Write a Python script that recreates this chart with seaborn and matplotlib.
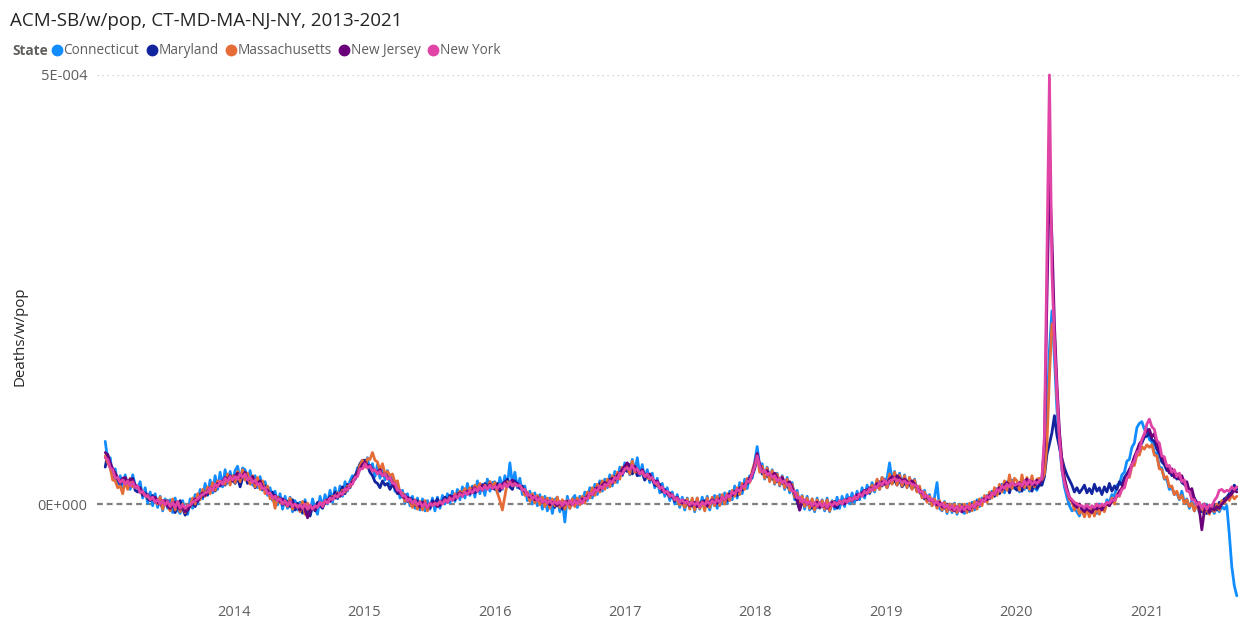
import numpy as np
import pandas as pd
import matplotlib
matplotlib.use("Agg")
import matplotlib.pyplot as plt
import seaborn as sns
from matplotlib.lines import Line2D
from matplotlib.ticker import FixedLocator, FuncFormatter

# ---------------- data ----------------
states = ["Connecticut", "Maryland", "Massachusetts", "New Jersey", "New York"]
colors = ["#118DFF", "#12239E", "#E66C37", "#6B007B", "#E044A7"]
first_week = "2013-01-05"          # weekly series (week ending Saturday)
year_ticks = [2014, 2015, 2016, 2017, 2018, 2019, 2020, 2021]
y_ticks = [0.0, 5e-4]
unit = 1e-5                         # values below are in units of 1E-005

connecticut = [
    # 2013
    7.3, 5.2, 5.4, 3.0, 4.1, 2.3, 3.3, 1.8, 3.4, 2.1, 1.7, 3.4, 2.2,
    1.9, 2.6, 0.7, 1.9, 0.1, 1.4, -0.2, 1.2, -0.4, 0.9, -0.8, 0.6, -0.5,
    0.5, -1.0, 0.7, -0.7, -1.1, 0.4, -0.8, -1.2, 0.6, -0.5, 1.1, 0.0, 1.7,
    0.6, 2.4, 1.0, 2.8, 1.3, 3.3, 1.7, 3.7, 2.0, 4.0, 2.4, 3.8, 2.6,
    # 2014
    3.9, 4.4, 2.8, 4.2, 4.0, 2.5, 3.9, 2.2, 3.3, 1.9, 3.2, 1.6, 2.6,
    1.0, 1.9, 0.4, 1.5, -0.1, 1.2, -0.6, 0.9, -0.5, 0.8, -0.9, 0.4, -0.7,
    0.2, -1.1, 0.5, -0.8, -1.3, 0.6, -0.5, -1.2, 0.9, -0.4, 1.1, 0.0, 1.6,
    0.2, 1.9, 0.6, 2.1, 0.9, 2.6, 1.5, 2.7, 3.3, 2.9, 4.2, 4.3, 5.0,
    # 2015
    4.4, 5.4, 3.8, 4.7, 3.2, 4.6, 3.0, 4.3, 2.8, 3.9, 2.3, 3.2, 1.5,
    2.3, 0.7, 1.6, 0.1, 1.2, -0.2, 0.9, -0.5, 0.7, -0.7, 0.6, -0.8, 0.4,
    -0.6, 0.7, -0.8, 0.8, -0.5, 1.0, 0.0, 1.2, 0.1, 1.5, 0.3, 1.7, 0.5,
    2.0, 0.7, 2.4, 1.0, 2.1, 0.8, 2.7, 1.2, 2.3, 1.0, 2.9, 1.5, 2.5,
    # 2016
    2.6, 1.3, 3.1, 1.7, 3.3, 2.1, 4.8, 2.3, 3.7, 1.9, 3.0, 1.1, 2.1,
    0.4, 1.5, 0.0, 1.3, -0.2, 1.1, -0.6, 0.9, -0.8, 0.7, -1.1, 0.5, 0.8,
    -0.9, 0.4, -2.1, 0.9, -0.5, 0.6, 1.0, -0.4, 0.9, 0.1,
    1.4, 0.4, 1.9, 0.7, 2.3, 1.1, 2.7, 1.5, 2.9, 1.9, 3.4, 2.1, 3.8, 2.5, 4.3, 3.3, 4.8,
    # 2017
    4.6, 3.4, 5.2, 3.8, 5.4, 3.3, 4.6, 2.8, 4.0, 2.5, 3.6, 1.9, 3.0,
    1.3, 2.4, 0.9, 1.9, 0.4, 1.4, 0.0, 1.1, -0.4, 0.8, -0.7, 0.7, -0.5,
    0.6, -0.9, 0.7, -0.6, 0.8, -0.4, 0.9, -0.7, 0.5, 1.0, -0.5, 1.1, 0.0,
    1.3, 0.1, 1.5, 0.5, 2.1, 0.7, 2.5, 1.2, 2.9, 1.8, 3.3, 3.0, 4.9,
    # 2018
    6.7, 4.4, 4.7, 2.9, 4.3, 2.7, 4.0, 2.3, 3.6, 2.1, 3.3, 1.7, 3.1,
    1.3, 2.5, 0.5, 1.6, -0.1, 1.0, -0.6, 0.9, -0.7, 0.6, -0.9, 0.7, -0.5,
    0.5, -0.8, 0.7, -0.9, 0.4, -0.6, 0.8, -0.5, 0.9, -0.3, 1.1, 0.0, 1.3,
    0.2, 1.5, 0.5, 1.9, 0.7, 2.2, 1.2, 2.5, 1.4, 2.8, 1.7, 3.1, 2.8,
    # 2019
    3.0, 4.8, 2.7, 3.8, 2.3, 3.6, 2.2, 3.4, 1.9, 3.1, 1.8, 2.9, 1.5,
    1.8, 0.8, 1.6, 0.3, 1.1, -0.2, 0.8, 2.5, -0.5, -0.8, 0.3, -1.1, 0.0,
    -1.0, 0.1, -1.2, -0.1, -0.9, -1.1, 0.0, -0.9, 0.2, -0.7, 0.5, -0.3, 0.7,
    0.3, 1.0, 0.9, 1.5, 1.2, 1.8, 1.6, 2.3, 1.3, 2.6, 1.5, 2.8, 1.8,
    # 2020
    2.4, 1.4, 2.8, 1.7, 2.6, 1.5, 2.9, 1.9, 1.6, 2.7,
    2.5, 4.5, 10.0, 18.0, 22.5, 17.0, 11.0, 7.0, 4.0, 2.0, 0.8, -0.2,
    -0.8, -0.6, -0.9, -1.4, -0.5, -1.3, -0.2, -1.2, -0.4, -0.7, -1.1, 0.0, -0.3, -0.7, 0.5, 0.2,
    1.1, 0.9, 2.2, 2.3, 3.4, 3.7, 5.0, 5.2, 6.6, 7.1, 8.9, 9.4, 9.6, 8.7,
    # 2021
    8.8, 7.5, 7.3, 6.0, 5.9, 4.3, 4.2, 2.9, 2.9, 1.7, 1.9, 1.1, 1.3,
    0.5, 1.5, 0.2, 0.6, -0.5, 0.4, -0.8, 0.0, -1.0, -0.6, -1.2, -0.1, -0.9,
    -0.4, -1.1, -0.2, -0.9, -0.3, -0.6, -0.2, -3.5, -7.3, -9.5, -10.7,
]

maryland = [
    # 2013
    4.3, 5.8, 4.6, 3.5, 3.0, 2.9, 2.3, 2.7, 2.6, 1.9, 2.2, 3.0, 1.6,
    1.4, 1.9, 1.0, 1.3, 0.6, 0.4, 1.0, 0.2, 0.5, 0.1, -0.4, 0.3, 0.4,
    -0.6, 0.2, -1.0, -0.2, 0.4, -0.5, -1.3, -0.7, -0.2, 0.2, -0.3, 0.6, 1.1,
    0.8, 1.5, 1.1, 1.9, 2.0, 1.5, 2.4, 2.1, 2.6, 2.2, 3.1, 2.6, 2.9,
    # 2014
    2.4, 3.1, 2.0, 3.0, 3.4, 2.4, 2.9, 3.1, 1.9, 2.6, 2.4, 1.7, 2.1,
    1.3, 1.0, 1.4, 0.5, 0.8, 0.7, -0.1, 0.4, 0.3, -0.3, 0.5, -0.7, 0.1,
    -0.6, -1.0, 0.2, -0.4, -1.4, -0.3, -0.8, 0.2, -0.2, -0.5, 0.4, 0.3, 0.9,
    0.6, 1.4, 0.7, 1.3, 2.0, 1.2, 2.3, 1.9, 2.8, 3.3, 3.9, 4.7, 5.1,
    # 2015
    5.1, 4.5, 3.7, 3.3, 2.6, 2.4, 1.9, 2.7, 2.2, 2.4, 1.7, 2.3, 1.8,
    1.2, 1.4, 0.8, 1.1, 0.3, 0.7, 0.5, -0.2, 0.4, -0.4, 0.2, 0.3, -0.3,
    -0.5, 0.4, 0.1, 0.6, -0.2, 0.3, 0.8, 0.4, 1.0, 0.6, 0.5, 1.2, 1.3,
    0.9, 1.6, 1.2, 1.5, 1.9, 1.3, 1.8, 2.3, 1.6, 2.4, 2.0, 2.6, 1.9,
    # 2016
    1.7, 2.4, 1.5, 2.3, 2.5, 2.9, 2.0, 1.7, 2.7, 2.2, 1.8, 2.1, 1.3,
    1.2, 0.8, 1.0, 0.4, 0.9, 0.6, 0.2, 0.5, 0.4, -0.1, 0.5, -0.4, 0.3,
    0.1, -0.6, 0.3, 0.0, -0.2, 0.5, 0.1, 0.4, 0.2, 0.6,
    0.7, 0.9, 1.4, 1.1, 1.8, 1.6, 2.4, 1.9, 2.5, 2.3, 2.9, 2.4, 3.2, 3.0, 3.7, 3.4, 4.0,
    # 2017
    3.8, 4.6, 3.5, 4.1, 3.3, 3.5, 3.6, 2.8, 3.3, 2.8, 2.9, 2.2, 2.1,
    2.3, 1.4, 1.7, 1.2, 0.8, 1.1, 0.3, 0.7, 0.2, 0.4, -0.3, 0.1, 0.2,
    -0.1, -0.5, 0.3, -0.2, 0.2, 0.4, -0.3, 0.1, 0.5, -0.2, 0.6, 0.3, 0.5,
    0.7, 0.4, 1.0, 1.1, 1.4, 1.0, 1.9, 1.6, 2.1, 2.4, 2.6, 3.3, 4.1,
    # 2018
    5.4, 4.5, 3.5, 3.7, 3.2, 3.4, 2.9, 3.1, 2.6, 2.8, 2.4, 2.5, 2.1,
    1.7, 1.8, 0.9, 0.3, -0.7, 0.5, -0.2, 0.3, 0.1, -0.5, 0.2, -0.4, 0.1,
    -0.2, -0.4, 0.2, -0.7, 0.1, 0.3, -0.5, 0.2, 0.0, 0.5, 0.2, 0.7, 0.3,
    0.8, 0.5, 1.0, 1.3, 1.0, 1.7, 1.3, 1.9, 2.0, 2.1, 2.6, 2.1, 2.8,
    # 2019
    1.9, 2.7, 2.4, 2.8, 2.2, 2.9, 2.0, 2.4, 2.5, 2.3, 1.8, 2.3, 1.5,
    1.4, 1.0, 0.6, 0.5, 0.7, 0.1, 0.4, -0.3, 0.1, -0.2, -0.5, 0.0, -0.4,
    -0.7, -0.2, -0.9, -0.4, -0.2, -0.8, -0.3, -0.4, 0.0, -0.4, 0.3, 0.0, 0.4,
    0.4, 0.9, 0.6, 1.3, 0.9, 1.6, 1.2, 1.9, 1.7, 2.3, 1.3, 2.4, 1.9,
    # 2020
    1.6, 2.4, 1.5, 2.6, 1.9, 2.3, 1.5, 2.5, 1.8, 2.2,
    2.2, 3.2, 5.8, 7.0, 8.3, 10.3, 8.0, 6.6, 5.3, 4.2, 3.4, 2.8,
    2.2, 1.4, 1.9, 1.3, 1.7, 2.2, 1.3, 1.8, 1.2, 2.3, 1.5, 1.9, 1.1, 2.0, 1.4, 2.4,
    1.5, 2.1, 1.7, 2.6, 2.2, 3.1, 3.5, 4.0, 4.4, 5.4, 5.9, 6.7, 7.1, 7.8,
    # 2021
    7.9, 8.3, 7.5, 7.3, 6.4, 5.9, 4.9, 4.6, 3.9, 4.0, 3.3, 3.7, 2.9,
    3.3, 2.5, 2.3, 1.9, 1.5, 1.0, 0.7, 0.1, -0.5, -0.9, 0.0, -1.1, -0.3,
    -0.8, 0.0, -0.7, 0.2, 0.2, 0.6, 0.8, 1.2, 1.5, 2.2, 1.7,
]

massachusetts = [
    # 2013
    5.6, 4.8, 4.2, 2.8, 2.7, 1.9, 2.1, 1.2, 2.7, 1.7, 3.0, 2.0, 2.2,
    1.9, 1.7, 1.2, 1.1, 0.8, 0.7, 0.5, 0.4, 0.0, 0.8, -0.6, 0.4, -0.1,
    -0.8, 0.6, -0.7, 0.3, -0.9, 0.0, -1.0, -0.1, -0.3, 0.7, 0.0, 1.2, 0.5,
    1.7, 0.9, 2.0, 1.2, 2.5, 1.6, 2.7, 2.5, 2.6, 2.3, 3.5, 2.2, 3.3,
    # 2014
    2.5, 3.8, 2.6, 4.0, 2.8, 3.6, 2.3, 3.3, 2.0, 3.1, 1.7, 2.7, 1.2,
    2.1, 0.6, 0.9, -0.5, 0.8, 0.1, 0.2, 0.0, -0.3, 0.7, -0.6, -0.2, -0.2,
    -0.9, 0.3, -1.2, 0.1, -0.7, -0.5, -0.4, -0.2, 0.0, 0.1, 0.1, 0.5, 0.4,
    0.9, 0.7, 1.3, 1.1, 1.6, 1.4, 2.1, 2.0, 2.7, 3.0, 3.6, 4.5, 5.1,
    # 2015
    4.3, 5.3, 5.2, 6.0, 5.1, 4.9, 3.9, 4.7, 3.5, 3.8, 3.3, 3.5, 2.5,
    2.7, 1.3, 1.3, 0.3, 0.6, 0.2, -0.4, 0.5, -0.6, 0.3, -0.7, 0.4, -0.8,
    0.1, -0.1, -0.1, 0.0, 0.2, 0.1, 0.5, 0.3, 0.8, 0.6, 1.2, 0.9, 1.5,
    1.2, 1.8, 1.3, 1.9, 1.5, 2.2, 1.7, 2.4, 1.9, 2.2, 1.8, 2.6, 2.0,
    # 2016
    2.5, 1.3, 0.4, -0.7, 0.9, 2.6, 2.3, 2.4, 2.2, 2.3, 2.1, 1.8, 1.0,
    1.4, 0.3, 1.2, 0.1, 1.0, -0.1, 0.8, -0.3, 0.7, -0.5, 0.6, -0.2, 0.8,
    -0.4, 0.5, -0.6, 0.4, -0.5, 0.6, -0.3, 0.7, -0.1, 0.9,
    0.1, 1.4, 0.7, 1.9, 1.0, 2.3, 1.4, 2.7, 1.7, 2.9, 2.0, 3.3, 2.5, 3.7, 2.9, 4.3, 4.0,
    # 2017
    4.4, 3.5, 5.0, 3.7, 3.8, 3.6, 3.6, 3.3, 3.1, 2.9, 2.9, 2.6, 2.2,
    1.9, 1.7, 1.4, 1.3, 0.9, 0.9, 0.5, 0.5, -0.1, 0.2, -0.4, 0.6, -0.6,
    0.7, -0.7, 0.7, -0.5, 0.3, -0.8, 0.7, -0.4, 0.8, -0.2, 0.9, -0.2, 1.1,
    0.0, 1.2, 0.4, 1.6, 0.9, 1.9, 1.1, 2.4, 1.7, 3.0, 2.5, 3.9, 4.8,
    # 2018
    5.7, 3.7, 4.4, 3.0, 4.2, 2.6, 3.9, 2.4, 3.5, 2.2, 3.2, 1.9, 2.9,
    1.6, 2.3, 0.8, 1.3, 0.0, 0.9, -0.3, 0.7, -0.5, 0.6, -0.7, 0.5, -0.4,
    0.4, -0.6, 0.5, -0.8, 0.3, -0.2, 0.1, 0.1, 0.3, 0.2, 0.4, 0.4, 0.6,
    0.6, 0.8, 0.9, 1.3, 1.3, 1.6, 1.4, 2.2, 1.6, 2.9, 1.7, 3.1, 2.5,
    # 2019
    1.9, 3.5, 2.3, 3.7, 2.2, 3.4, 2.1, 3.3, 1.9, 3.1, 1.7, 2.8, 1.4,
    2.1, 0.7, 1.4, 0.2, 0.9, -0.2, 0.6, -0.5, 0.4, -0.7, 0.2, -0.9, 0.0,
    -0.8, 0.0, -1.0, -0.1, -0.9, 0.0, -1.0, 0.1, -0.8, 0.3, -0.6, 0.6, -0.2,
    1.0, 0.2, 1.4, 0.7, 1.9, 1.0, 2.3, 1.4, 2.7, 1.6, 3.4, 1.8, 3.0,
    # 2020
    2.7, 1.6, 3.4, 1.9, 3.1, 1.7, 3.3, 2.0, 2.9, 3.0,
    2.8, 3.5, 7.0, 15.0, 21.0, 19.5, 12.5, 8.0, 5.0, 3.0, 1.5, 0.5,
    0.3, -0.7, 0.1, -1.1, -0.7, -1.5, -0.6, -1.5, -0.5, -1.4, -0.3, -1.2, -0.1, -0.9, 0.1, -0.2,
    0.7, 0.0, 1.1, 0.9, 1.9, 1.9, 3.1, 3.1, 4.4, 4.5, 5.7, 5.7, 6.7, 6.4,
    # 2021
    6.9, 6.6, 6.9, 5.7, 5.6, 4.1, 4.0, 3.0, 3.2, 2.0, 2.1, 1.1, 1.5,
    0.6, 1.0, 0.1, 0.5, -0.3, 0.1, -0.8, 0.1, -0.9, -0.2, -1.1, -0.4, -1.2,
    -0.3, -0.9, 0.0, -0.7, 0.4, 0.1, 0.7, 0.4, 1.1, 0.6, 0.9,
]

new_jersey = [
    # 2013
    6.0, 5.7, 4.8, 4.1, 3.6, 3.0, 2.6, 3.0, 3.1, 2.5, 2.9, 2.8, 2.2,
    2.0, 1.8, 1.2, 1.0, 1.1, 0.6, 0.5, 0.8, 0.2, 0.0, 0.4, 0.3, -0.3,
    -0.5, -0.1, 0.2, -0.4, -0.6, -0.2, -0.9, -0.7, -0.2, 0.1, 0.6, 0.3, 0.9,
    1.3, 1.0, 1.5, 1.9, 1.7, 2.1, 2.4, 2.2, 2.6, 3.1, 2.8, 3.3, 2.7,
    # 2014
    3.3, 3.6, 3.1, 3.3, 3.7, 2.8, 2.9, 3.2, 2.5, 2.4, 2.7, 2.0, 1.8,
    1.6, 1.2, 0.9, 1.0, 0.5, 0.3, 0.6, 0.1, -0.2, 0.3, 0.1, -0.4, -0.3,
    -0.7, -0.2, -0.6, -1.6, -0.8, -0.4, -0.7, -0.1, 0.1, -0.3, 0.2, 0.5, 0.3,
    0.8, 0.7, 1.2, 0.9, 1.4, 1.6, 1.9, 2.2, 2.6, 2.9, 3.6, 4.1, 4.6,
    # 2015
    4.9, 4.4, 4.5, 4.0, 3.9, 3.7, 4.0, 3.3, 3.5, 3.1, 3.0, 2.5, 2.0,
    1.6, 1.3, 1.0, 0.7, 0.8, 0.4, 0.1, 0.4, 0.0, -0.3, 0.2, 0.0, -0.4,
    -0.2, 0.1, 0.2, -0.3, 0.0, 0.3, 0.5, 0.2, 0.7, 0.9, 0.6, 1.0, 1.3,
    1.1, 1.3, 1.5, 1.2, 1.6, 1.9, 1.5, 1.8, 2.2, 1.9, 2.0, 2.3, 1.8,
    # 2016
    2.0, 2.2, 1.7, 2.3, 2.6, 2.1, 2.5, 2.8, 2.3, 2.4, 2.0, 1.7, 1.5,
    1.1, 0.8, 0.9, 0.5, 0.7, 0.6, 0.2, 0.4, 0.3, -0.1, 0.2, 0.1, -0.2,
    0.2, -0.3, 0.0, 0.3, 0.1, -0.1, 0.4, 0.2, 0.3, 0.6,
    0.5, 0.9, 1.2, 1.1, 1.6, 1.9, 1.7, 2.2, 2.5, 2.3, 2.7, 3.0, 2.8, 3.3, 3.6, 4.0, 4.4,
    # 2017
    4.8, 4.3, 4.1, 4.4, 3.8, 3.6, 4.0, 3.4, 3.2, 3.5, 2.9, 2.6, 2.7,
    2.0, 1.7, 1.5, 1.2, 1.3, 0.8, 0.6, 0.8, 0.3, 0.1, 0.4, 0.2, -0.2,
    -0.1, 0.2, -0.3, 0.0, 0.3, 0.1, -0.2, 0.2, 0.5, 0.3, 0.1, 0.6, 0.7,
    0.5, 0.9, 1.2, 1.0, 1.5, 1.4, 1.8, 2.0, 2.3, 2.6, 3.0, 3.5, 4.6,
    # 2018
    5.9, 4.6, 3.9, 3.7, 3.9, 3.4, 3.3, 3.6, 3.0, 2.8, 3.1, 2.5, 2.4,
    2.6, 1.9, 1.3, 0.6, -0.7, 0.3, 0.4, 0.0, 0.2, -0.2, -0.1, 0.2, -0.4,
    -0.3, 0.0, -0.5, -0.1, 0.2, -0.3, 0.1, 0.3, 0.2, 0.0, 0.5, 0.7, 0.5,
    0.8, 1.1, 0.9, 1.3, 1.6, 1.4, 1.9, 1.7, 2.0, 2.4, 2.2, 2.6, 2.3,
    # 2019
    2.5, 2.9, 3.2, 2.8, 3.3, 3.0, 2.7, 2.9, 2.6, 2.4, 2.7, 2.3, 2.0,
    1.6, 1.3, 0.9, 0.7, 0.4, 0.5, 0.1, -0.1, 0.2, -0.3, -0.4, -0.1, -0.6,
    -0.5, -0.8, -0.3, -0.7, -0.9, -0.4, -0.5, -0.7, -0.2, -0.4, 0.0, 0.2, 0.4,
    0.6, 0.5, 1.0, 1.3, 1.1, 1.6, 1.9, 1.7, 2.2, 2.5, 2.1, 2.4, 2.3,
    # 2020
    2.1, 2.5, 2.0, 2.6, 2.9, 2.3, 2.6, 2.2, 2.8, 2.4,
    3.0, 7.0, 24.0, 38.0, 31.0, 21.0, 14.0, 8.5, 5.0, 3.0, 1.8, 0.8,
    0.4, -0.1, -0.4, 0.0, -0.6, -0.9, -0.5, -0.8, -1.0, -0.4, -0.6, -0.3, -0.7, -0.2, 0.1, -0.2,
    0.3, 0.6, 0.9, 1.5, 1.8, 2.6, 3.2, 4.0, 4.6, 5.5, 6.2, 7.0, 7.4, 8.1,
    # 2021
    8.5, 8.7, 7.8, 8.2, 7.0, 6.2, 5.5, 4.9, 4.4, 3.6, 4.1, 3.1, 3.5,
    2.9, 3.3, 2.4, 2.6, 1.5, 1.8, 0.6, 0.2, -0.6, -3.0, -0.8, -0.2, -1.0,
    -0.4, -0.7, -0.3, -0.5, 0.0, 0.3, 0.6, 0.9, 1.2, 1.6, 1.4,
]

new_york = [
    # 2013
    5.4, 5.2, 4.2, 4.0, 3.0, 3.1, 2.5, 2.8, 2.3, 2.7, 2.1, 2.6, 1.9,
    2.1, 1.3, 1.5, 0.9, 1.0, 0.5, 0.8, 0.2, 0.5, 0.0, 0.4, -0.1, 0.3,
    -0.3, 0.2, -0.4, 0.3, -0.5, -0.1, -0.5, -0.2, -0.1, 0.2, 0.4, 0.6, 0.9,
    1.1, 1.3, 1.4, 1.9, 1.6, 2.3, 2.0, 2.7, 2.3, 3.0, 2.6, 3.2, 2.8,
    # 2014
    3.2, 2.9, 3.5, 3.1, 3.5, 2.8, 3.1, 2.5, 2.8, 2.2, 2.4, 1.8, 1.9,
    1.2, 1.3, 0.7, 0.9, 0.4, 0.6, 0.0, 0.4, -0.2, 0.3, -0.3, 0.0, -0.4,
    -0.1, -0.5, 0.0, -0.6, -0.1, -0.6, -0.2, -0.4, 0.2, -0.3, 0.4, 0.1, 0.7,
    0.5, 1.0, 0.8, 1.3, 1.1, 1.8, 1.6, 2.3, 2.3, 3.1, 3.2, 4.1, 4.1,
    # 2015
    4.7, 4.2, 4.4, 3.8, 4.0, 3.5, 3.8, 3.3, 3.5, 2.9, 3.1, 2.4, 2.4,
    1.6, 1.6, 0.9, 1.0, 0.4, 0.6, 0.1, 0.4, -0.1, 0.2, -0.3, 0.1, -0.4,
    0.1, -0.2, 0.1, -0.1, 0.3, 0.0, 0.5, 0.2, 0.7, 0.4, 1.0, 0.7, 1.2,
    0.9, 1.4, 1.1, 1.6, 1.3, 1.8, 1.5, 2.0, 1.6, 2.1, 1.7, 2.2, 1.8,
    # 2016
    2.1, 1.8, 2.3, 1.8, 2.4, 2.0, 2.6, 2.1, 2.4, 2.1, 2.2, 1.6, 1.7,
    1.0, 1.1, 0.6, 0.9, 0.4, 0.7, 0.2, 0.5, 0.1, 0.4, 0.0, 0.3, 0.0,
    0.3, -0.2, 0.3, -0.1, 0.4, -0.1, 0.4, 0.0, 0.5, 0.1,
    0.7, 0.6, 1.3, 1.1, 1.7, 1.5, 2.1, 1.8, 2.3, 2.1, 2.7, 2.5, 3.1, 2.9, 3.6, 3.5, 4.1,
    # 2017
    4.2, 4.0, 4.5, 3.9, 4.1, 3.5, 3.8, 3.2, 3.5, 3.0, 3.1, 2.4, 2.5,
    1.8, 2.0, 1.3, 1.5, 0.9, 1.1, 0.5, 0.7, 0.2, 0.5, 0.1, 0.3, -0.1,
    0.2, -0.1, 0.2, -0.3, 0.2, -0.1, 0.3, 0.0, 0.4, 0.1, 0.5, 0.2, 0.8,
    0.5, 1.0, 0.8, 1.4, 1.2, 1.7, 1.5, 2.1, 2.0, 2.7, 2.6, 3.5, 4.3,
    # 2018
    5.6, 4.4, 3.7, 3.9, 3.4, 3.6, 3.1, 3.3, 2.7, 3.0, 2.5, 2.7, 2.2,
    2.3, 1.5, 1.5, 0.7, 0.8, 0.2, 0.5, 0.0, 0.3, -0.2, 0.2, -0.3, 0.2,
    -0.3, 0.1, -0.4, 0.1, -0.2, 0.2, -0.1, 0.4, 0.0, 0.5, 0.2, 0.7, 0.4,
    0.9, 0.6, 1.2, 0.9, 1.5, 1.2, 1.8, 1.6, 2.1, 1.9, 2.5, 2.2, 2.8,
    # 2019
    2.3, 2.7, 2.8, 3.0, 2.7, 2.8, 2.5, 2.7, 2.4, 2.5, 2.3, 2.2, 2.1,
    1.4, 1.5, 0.8, 1.0, 0.4, 0.6, 0.0, 0.3, -0.2, 0.1, -0.4, -0.1, -0.6,
    -0.2, -0.7, -0.3, -0.8, -0.3, -0.7, -0.2, -0.6, -0.1, -0.4, 0.2, -0.1, 0.5,
    0.3, 0.9, 0.7, 1.3, 1.1, 1.7, 1.5, 2.1, 1.8, 2.3, 2.0, 2.5, 2.2,
    # 2020
    2.3, 2.4, 2.1, 2.7, 2.2, 2.8, 2.3, 2.6, 2.4, 2.7,
    3.0, 8.0, 29.0, 50.0, 27.0, 19.0, 13.0, 7.5, 4.0, 2.5, 1.5, 0.8,
    0.5, 0.2, 0.0, -0.2, -0.2, -0.4, -0.1, -0.5, -0.2, -0.4, 0.0, -0.3, 0.0, -0.2, 0.2, 0.1,
    0.5, 0.4, 1.0, 1.0, 1.7, 1.9, 3.0, 3.4, 4.6, 5.0, 6.0, 6.3, 7.5, 8.2,
    # 2021
    9.3, 9.9, 9.0, 8.7, 7.4, 7.1, 5.6, 5.5, 4.4, 4.5, 3.7, 4.0, 3.2,
    3.6, 2.6, 2.8, 1.5, 1.5, 0.5, 0.5, -0.1, 0.2, -0.5, 0.0, -0.6, -0.1,
    -0.3, 0.4, 0.8, 1.6, 1.7, 1.4, 1.6, 1.5, 2.0, 1.7, 2.0,
]

series = [connecticut, maryland, massachusetts, new_jersey, new_york]

frames = []
for name, vals in zip(states, series):
    frames.append(pd.DataFrame({
        "Week": pd.date_range(first_week, periods=len(vals), freq="7D"),
        "Deaths/w/pop": np.asarray(vals, dtype=float) * unit,
        "State": name,
    }))
df = pd.concat(frames, ignore_index=True)

# ---------------- style ----------------
sns.set_theme(style="white")
plt.rcParams["font.family"] = ["Open Sans", "DejaVu Sans"]

W, H = 1244, 622
fig = plt.figure(figsize=(W / 100, H / 100), dpi=100)
ax_l, ax_r, ax_t, ax_b = 97, 1240, 75, 598.4
ax = fig.add_axes([ax_l / W, 1 - ax_b / H, (ax_r - ax_l) / W, (ax_b - ax_t) / H])

ax.axhline(0, color="#7f7f7f", lw=1.6, ls=(0, (2.6, 1.8)), zorder=1)
ax.axhline(y_ticks[1], color="#c8c8c8", lw=0.9, ls=(0, (1, 3)), zorder=1)

sns.lineplot(data=df, x="Week", y="Deaths/w/pop", hue="State", hue_order=states,
             palette=dict(zip(states, colors)), estimator=None, lw=2.0,
             legend=False, ax=ax, clip_on=False, zorder=3)

ax.set_ylim(-11.0 * unit, 50.0 * unit)
ax.set_xlim(pd.Timestamp("2012-12-13"), pd.Timestamp("2021-09-20"))

def pbi_sci(v, pos):
    if v == 0:
        return "0E+000"
    e = int(np.floor(np.log10(abs(v)) + 1e-9))
    m = v / 10 ** e
    return f"{m:.0f}E{'+' if e >= 0 else '-'}{abs(e):03d}"

ax.yaxis.set_major_locator(FixedLocator(y_ticks))
ax.yaxis.set_major_formatter(FuncFormatter(pbi_sci))
ax.set_xticks([pd.Timestamp(f"{y}-01-01") for y in year_ticks])
ax.set_xticklabels([str(y) for y in year_ticks])
ax.tick_params(axis="both", length=0, labelsize=10.5, labelcolor="#605E5C")
ax.tick_params(axis="y", pad=7)
ax.tick_params(axis="x", pad=5)
for s in ax.spines.values():
    s.set_visible(False)
ax.grid(False)

ax.set_xlabel("")
ax.set_ylabel("Deaths/w/pop", fontsize=10.8, color="#252423")
ax.yaxis.set_label_coords((28 - ax_l) / (ax_r - ax_l), 0.5)

fig.text(10 / W, 1 - 21 / H, "ACM-SB/w/pop, CT-MD-MA-NJ-NY, 2013-2021",
         fontsize=13.5, color="#252423", va="center", ha="left")
fig.text(12 / W, 1 - 51 / H, "State", fontsize=9.8, fontweight="bold",
         color="#605E5C", va="center", ha="left")
handles = [Line2D([], [], marker="o", ls="", color=c, markersize=7.5) for c in colors]
fig.legend(handles, states, loc="center left", bbox_to_anchor=(52 / W, 1 - 51 / H),
           ncol=5, frameon=False, handlelength=0.7, handletextpad=0.15,
           columnspacing=0.55, fontsize=9.8, labelcolor="#605E5C",
           borderaxespad=0, borderpad=0)

fig.savefig("out.png", dpi=100)
